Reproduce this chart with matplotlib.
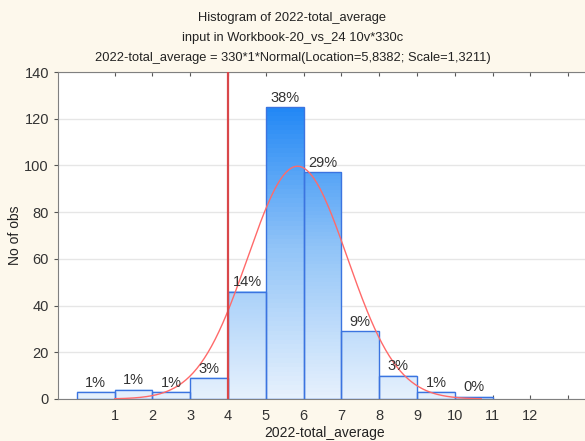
import numpy as np
import matplotlib
matplotlib.use("Agg")
import matplotlib.pyplot as plt
from matplotlib.colors import LinearSegmentedColormap, Normalize

plt.rcParams['font.family'] = ['Liberation Sans', 'DejaVu Sans']

# histogram data
bin_edges = [0, 1, 2, 3, 4, 5, 6, 7, 8, 9, 10, 11]
counts = [3, 4, 3, 9, 46, 125, 97, 29, 10, 3, 1]
pct_labels = ["1%", "1%", "1%", "3%", "14%", "38%", "29%", "9%", "3%", "1%", "0%"]
n_total = 330
loc, scale = 5.8382, 1.3211
curve_range = (1.0, 10.7)
cut_value = 4
xticks = list(range(1, 13))
yticks = list(range(0, 141, 20))

bg = "#fdf8ec"
fig = plt.figure(figsize=(5.85, 4.41), dpi=100, facecolor=bg)
ax = fig.add_axes([58/585, 1 - 399/441, (585 - 58)/585 + 0.01, (399 - 72)/441])
ax.set_facecolor("white")

cmap = LinearSegmentedColormap.from_list("bl", ["#e6f1fd", "#93c5f8", "#1f86f5"])
norm = Normalize(0, 128)
for i, c in enumerate(counts):
    x0, x1 = bin_edges[i], bin_edges[i + 1]
    grad = np.linspace(0, c, 64).reshape(-1, 1)
    ax.imshow(grad, extent=[x0, x1, 0, c], origin="lower", aspect="auto",
              cmap=cmap, norm=norm, zorder=2)
    ax.add_patch(plt.Rectangle((x0, 0), x1 - x0, c, fill=False,
                               edgecolor="#3b74e0", lw=1, zorder=3))
    ax.text((x0 + x1) / 2, c + 1.0, pct_labels[i], ha="center", va="bottom",
            fontsize=10.5, color="#333333", zorder=5)

xs = np.linspace(curve_range[0], curve_range[1], 300)
ys = n_total / (scale * np.sqrt(2 * np.pi)) * np.exp(-0.5 * ((xs - loc) / scale) ** 2)
ax.plot(xs, ys, color="#ff6a6a", lw=1, zorder=4)
ax.axvline(cut_value, color="#d9474a", lw=1.6, zorder=4)

ax.set_xlim(-0.5, 13.6)
ax.set_ylim(0, 140)
ax.set_yticks(yticks)
ax.set_xticks(xticks + [13])
ax.set_xticklabels([str(t) for t in xticks] + [""])
ax.grid(axis="y", color="#e6e6e6", lw=1, zorder=0)
ax.set_axisbelow(True)
ax.tick_params(axis="x", direction="in", top=True, length=3, labelsize=10.5,
               color="#555555", labelcolor="#333333", pad=7)
ax.tick_params(axis="y", direction="out", length=3, labelsize=10.5,
               color="#555555", labelcolor="#333333")
for s in ["left", "bottom", "top"]:
    ax.spines[s].set_color("#808080")
ax.spines["right"].set_visible(False)

ax.set_xlabel("2022-total_average", fontsize=10, color="#222222", labelpad=2)
ax.set_ylabel("No of obs", fontsize=10, color="#222222", labelpad=2)

fig.text(0.5, 1 - 18/441, "Histogram of 2022-total_average", ha="center", va="center",
         fontsize=9.3, color="#222222")
fig.text(0.5, 1 - 38/441, "input in Workbook-20_vs_24 10v*330c", ha="center", va="center",
         fontsize=9.3, color="#222222")
fig.text(0.5, 1 - 58/441, "2022-total_average = 330*1*Normal(Location=5,8382; Scale=1,3211)",
         ha="center", va="center", fontsize=9.3, color="#222222")

fig.savefig("out.png", dpi=100, facecolor=bg)
